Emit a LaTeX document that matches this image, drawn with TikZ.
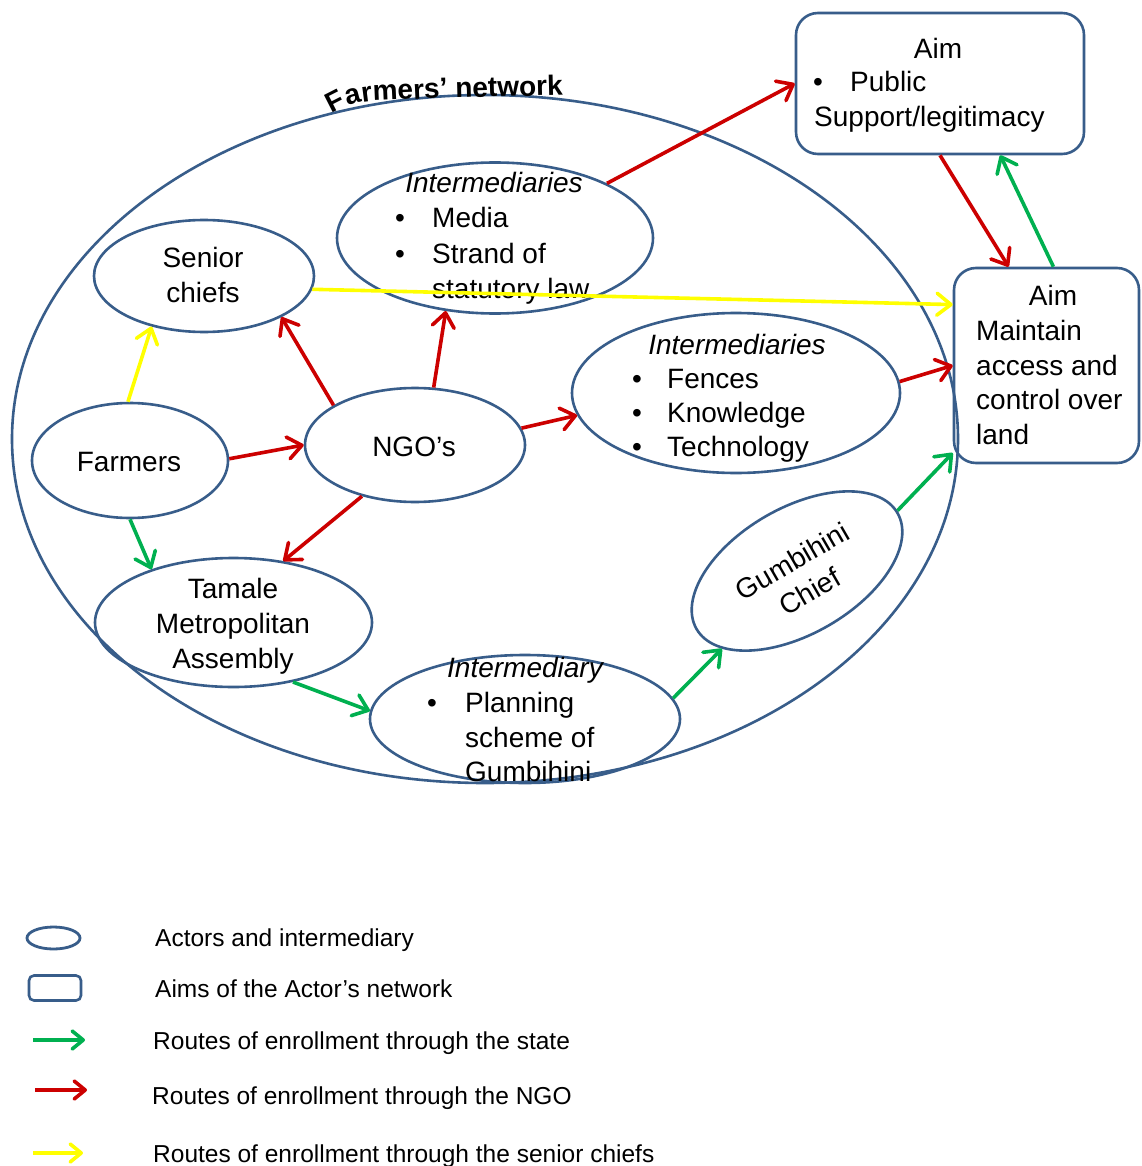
\documentclass[tikz,border=0pt]{standalone}
\usepackage{fontspec}
\setmainfont{Liberation Sans}
\usetikzlibrary{shapes.geometric,arrows.meta,decorations.text}

\definecolor{outline}{RGB}{56,93,138}
\definecolor{ngored}{RGB}{204,0,0}
\definecolor{stategreen}{RGB}{0,176,80}
\definecolor{chiefyellow}{RGB}{255,255,0}

\newcommand{\bulbox}[1]{\makebox[#1][l]{•}}

\tikzset{
  actor/.style={draw=outline, line width=2.6pt, ellipse, inner sep=0pt},
  aimbox/.style={draw=outline, line width=2.6pt, rectangle, rounded corners=22pt, inner sep=0pt},
  txt/.style={inner sep=0pt, anchor=base, font=\fontsize{28}{35}\selectfont},
  txtl/.style={txt, anchor=base west},
  txti/.style={txt, font=\fontsize{28}{35}\selectfont\itshape},
  route/.style={line width=3.6pt, -{Straight Barb[length=14pt,width=22pt,round]}},
  viango/.style={route, draw=ngored},
  viastate/.style={route, draw=stategreen},
  viachief/.style={route, draw=chiefyellow},
  legroute/.style={line width=3.6pt, -{Straight Barb[length=11pt,width=18pt,round]}},
  legtxt/.style={inner sep=0pt, anchor=base west, font=\fontsize{24.5}{28}\selectfont},
}

\begin{document}
\begin{tikzpicture}[x=1pt,y=-1pt]
\useasboundingbox[fill=white] (0,0) rectangle (1141,1166);

% the farmers' network
\node[actor, minimum width=946, minimum height=688] (net) at (485,439) {};
\path[decorate, decoration={text along path, text align=left,
  text={|\fontsize{28}{28}\selectfont\bfseries|Farmers’ network}}]
  (332,114) .. controls (342,108) and (352,103) .. (372,101)
  -- (440,98) -- (600,94);

% actors and intermediaries
\node[actor, minimum width=220, minimum height=112] (senior) at (204,276) {};
\node[actor, minimum width=316, minimum height=151] (media) at (495,238) {};
\node[actor, minimum width=196, minimum height=115] (farmers) at (130,460.5) {};
\node[actor, minimum width=220, minimum height=114] (ngo) at (415,445) {};
\node[actor, minimum width=328, minimum height=160] (fences) at (736,393) {};
\node[actor, minimum width=277, minimum height=129] (tamale) at (233.5,622.5) {};
\node[actor, minimum width=310, minimum height=128] (plan) at (525,719) {};
\node[actor, minimum width=232, minimum height=126, rotate=30] (gumb) at (797,571) {};

% aims
\node[aimbox, minimum width=288, minimum height=141] (aimtop) at (940,83.5) {};
\node[aimbox, minimum width=185, minimum height=195] (aimright) at (1046.5,365.5) {};

% texts
\node[txt] (seniorA) at (203,267) {Senior};
\node[txt] (seniorB) at (203,302) {chiefs};
\node[txt] (farmersA) at (129,471) {Farmers};
\node[txt] (ngoA) at (414,456) {NGO’s};
\node[txt] (tamaleA) at (233,598) {Tamale};
\node[txt] (tamaleB) at (233,633) {Metropolitan};
\node[txt] (tamaleC) at (233,668) {Assembly};

\node[txti] (mediaT) at (494,193) {Intermediaries};
\node[txtl] (mediaA) at (395,228) {\bulbox{37pt}Media};
\node[txtl] (mediaB) at (395,263) {\bulbox{37pt}Strand of};
\node[txtl] (mediaC) at (432,298) {statutory law};

\node[txti] (fencesT) at (737,354) {Intermediaries};
\node[txtl] (fencesA) at (632,388) {\bulbox{35pt}Fences};
\node[txtl] (fencesB) at (632,422) {\bulbox{35pt}Knowledge};
\node[txtl] (fencesC) at (632,456) {\bulbox{35pt}Technology};

\node[txti] (planT) at (525,677) {Intermediary};
\node[txtl] (planA) at (427,712) {\bulbox{38pt}Planning};
\node[txtl] (planB) at (465,747) {scheme of};
\node[txtl] (planC) at (465,781) {Gumbihini};

\node[inner sep=0pt, rotate=30, align=center, font=\fontsize{28}{35}\selectfont]
  (gumbT) at (801,576) {Gumbihini\\Chief};

\node[txt] (aimtopT) at (938,59) {Aim};
\node[txtl] (aimtopA) at (813,92) {\bulbox{37pt}Public};
\node[txtl] (aimtopB) at (814,127) {Support/legitimacy};

\node[txt] (aimrightT) at (1053,305) {Aim};
\node[txtl] (aimrightA) at (976,340) {Maintain};
\node[txtl] (aimrightB) at (976,375) {access and};
\node[txtl] (aimrightC) at (976,409) {control over};
\node[txtl] (aimrightD) at (976,444) {land};

% routes of enrollment through the NGO
\draw[viango] (farmers.1) -- (ngo.180);
\draw[viango] (ngo.154) -- (senior.-28);
\draw[viango] (ngo.72.5) -- (media.-124);
\draw[viango] (ngo.9.4) -- (fences.-172.2);
\draw[viango] (ngo.-136.7) -- (tamale.51);
\draw[viango] (media.26.2) -- (aimtop.west);
\draw[viango] (aimtop.south) -- (aimright.111.9);
\draw[viango] (fences.4.6) -- (aimright.west);

% routes of enrollment through the state
\draw[viastate] (farmers.-90) -- (tamale.147.2);
\draw[viastate] (tamale.-45) -- (plan.177.4);
\draw[viastate] (plan.8.4) -- (gumb.-164);
\draw[viastate] (gumb.1) -- (aimright.-137);
\draw[viastate] (aimright.86.2) -- (aimtop.-50);

% routes of enrollment through the senior chiefs
\draw[viachief] (farmers.92) -- (senior.-136.7);
\draw[viachief] (senior.-7.2) -- (aimright.147.8);

% legend
\node[actor, line width=2.8pt, minimum width=53, minimum height=22] (legActor) at (53.5,938) {};
\node[aimbox, rounded corners=5pt, minimum width=52, minimum height=25] (legAim) at (55,988) {};
\coordinate (legGa) at (33,1040);  \coordinate (legGb) at (85,1040);
\coordinate (legRa) at (35,1090);  \coordinate (legRb) at (87,1090);
\coordinate (legYa) at (33,1153);  \coordinate (legYb) at (83,1153);
\draw[legroute, draw=stategreen] (legGa) -- (legGb);
\draw[legroute, draw=ngored] (legRa) -- (legRb);
\draw[legroute, draw=chiefyellow] (legYa) -- (legYb);

\node[legtxt] (legT1) at (155,946) {Actors and intermediary};
\node[legtxt] (legT2) at (155,997) {Aims of the Actor’s network};
\node[legtxt] (legT3) at (153,1049) {Routes of enrollment through the state};
\node[legtxt] (legT4) at (152,1104) {Routes of enrollment through the NGO};
\node[legtxt] (legT5) at (153,1162) {Routes of enrollment through the senior chiefs};
\end{tikzpicture}
\end{document}
